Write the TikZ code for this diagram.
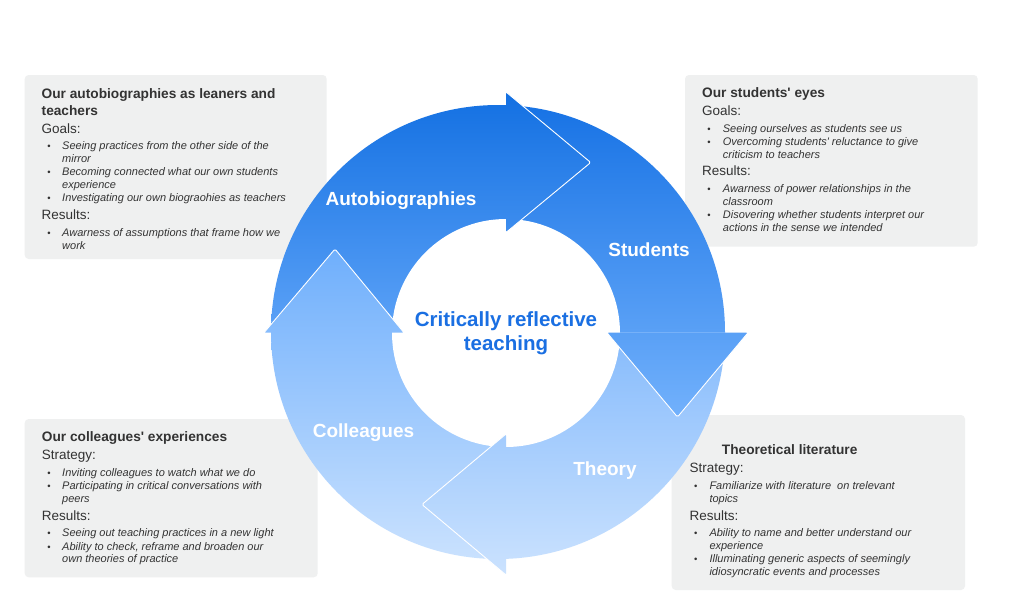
\documentclass[tikz,border=0pt]{standalone}
\usepackage{fontspec}
\newfontfamily\lib{Liberation Sans}
\definecolor{boxbg}{HTML}{EFF0F0}
\definecolor{txt}{HTML}{333333}
\definecolor{cblue}{HTML}{1A6FE2}
\definecolor{qat}{HTML}{1370E2}
\definecolor{qab}{HTML}{5CA2F7}
\definecolor{qbt}{HTML}{1873E5}
\definecolor{qbb}{HTML}{72B1FC}
\definecolor{qct}{HTML}{86BBFC}
\definecolor{qcb}{HTML}{CBE2FE}
\definecolor{qdt}{HTML}{6FAFFC}
\definecolor{qdb}{HTML}{C9E1FE}
\begin{document}
\begin{tikzpicture}[x=1pt,y=-1pt,
  infobox/.style={fill=boxbg,draw=none,rounded corners=4pt,inner sep=0pt},
  ttl/.style={anchor=base west,inner sep=0pt,text=txt,font=\lib\bfseries\fontsize{13.7}{16}\selectfont},
  sec/.style={anchor=base west,inner sep=0pt,text=txt,font=\lib\fontsize{13.5}{16}\selectfont},
  itm/.style={anchor=base west,inner sep=0pt,text=txt,font=\lib\itshape\fontsize{11}{13}\selectfont},
  bul/.style={anchor=base,inner sep=0pt,text=txt,font=\lib\fontsize{9.5}{11}\selectfont},
  ring/.style={anchor=base,inner sep=0pt,text=white,font=\lib\bfseries\fontsize{19}{22}\selectfont},
  ctr/.style={anchor=base,inner sep=0pt,text=cblue,font=\lib\bfseries\fontsize{20.5}{24}\selectfont},
  edge/.style={white,line width=0.9pt,line join=round}]
\useasboundingbox (0,0) rectangle (1018,616);
\fill[white] (0,0) rectangle (1018,616);

% ---- info boxes
\node[infobox,minimum width=302pt,minimum height=184pt] (box1) at (175.7,167) {};
\node[infobox,minimum width=292.7pt,minimum height=171.7pt] (box2) at (831.35,160.85) {};
\node[infobox,minimum width=293pt,minimum height=158.3pt] (box3) at (171.2,498.15) {};
\node[infobox,minimum width=293.3pt,minimum height=175pt] (box4) at (818.35,502.5) {};

% ---- ring bands
\begin{scope}
  \clip (498,332) circle (227);
  \clip (250,80) rectangle (506,332.7);
  \shade[top color=qat,bottom color=qab] (250,92) rectangle (506,332.7);
\end{scope}
\begin{scope}
  \clip (498,332) circle (227);
  \clip (506,80) rectangle (760,332.7);
  \shade[top color=qbt,bottom color=qbb] (506,105) rectangle (760,417);
\end{scope}
\begin{scope}
  \clip (498,332) circle (227);
  \clip (506,332.7) rectangle (760,600);
  \shade[top color=qct,bottom color=qcb] (506,332.7) rectangle (760,575);
\end{scope}
\begin{scope}
  \clip (498,332) circle (227);
  \clip (250,332.7) rectangle (506,600);
  \shade[top color=qdt,bottom color=qdb] (250,249) rectangle (506,558);
\end{scope}
\fill[white] (506,333) circle (114);

% ---- arrow heads
\begin{scope}
  \clip[rounded corners=1.5pt] (506,92) -- (590.7,162.5) -- (506,232.5) -- cycle;
  \shade[top color=qat,bottom color=qab] (250,92) rectangle (760,332.7);
\end{scope}
\draw[edge,rounded corners=1.5pt] (506,92) -- (590.7,162.5) -- (506,232.5);
\begin{scope}
  \clip[rounded corners=1.5pt] (607,332.7) -- (677.5,417) -- (748,332.7) -- cycle;
  \shade[top color=qbt,bottom color=qbb] (506,105) rectangle (760,417);
\end{scope}
\draw[edge,rounded corners=1.5pt] (607,332.7) -- (677.5,417) -- (748,332.7);
\begin{scope}
  \clip[rounded corners=1.5pt] (506,434) -- (422,504.5) -- (506,575) -- cycle;
  \shade[top color=qct,bottom color=qcb] (400,332.7) rectangle (760,575);
\end{scope}
\draw[edge,rounded corners=1.5pt] (506,434) -- (422,504.5) -- (506,575);
\begin{scope}
  \clip[rounded corners=1.5pt] (264,332.7) -- (335,249) -- (404,332.7) -- cycle;
  \shade[top color=qdt,bottom color=qdb] (250,249) rectangle (506,558);
\end{scope}
\draw[edge,rounded corners=1.5pt] (264,332.7) -- (335,249) -- (404,332.7);

% ---- ring labels
\node[ring] (lauto) at (401,205) {Autobiographies};
\node[ring] (lstud) at (649,256) {Students};
\node[ring] (lcoll) at (363.5,437.7) {Colleagues};
\node[ring] (ltheo) at (605,475) {Theory};
\node[ctr] (c1) at (506,326) {Critically reflective};
\node[ctr] (c2) at (506,350) {teaching};

% ---- box 1
\node[ttl] (a1) at (41.5,98.3) {Our autobiographies as leaners and};
\node[ttl] (a2) at (41.5,115) {teachers};
\node[sec] (a3) at (41.5,133.3) {Goals:};
\node[bul] (a4) at (49,149.3) {•};
\node[itm] (a5) at (62,149.3) {Seeing practices from the other side of the};
\node[itm] (a6) at (62,162.4) {mirror};
\node[bul] (a7) at (49,175.5) {•};
\node[itm] (a8) at (62,175.5) {Becoming connected what our own students};
\node[itm] (a9) at (62,188.6) {experience};
\node[bul] (a10) at (49,201.8) {•};
\node[itm] (a11) at (62,201.8) {Investigating our own biograohies as teachers};
\node[sec] (a12) at (41.5,219) {Results:};
\node[bul] (a13) at (49,236) {•};
\node[itm] (a14) at (62,236) {Awarness of assumptions that frame how we};
\node[itm] (a15) at (62,249) {work};

% ---- box 2
\node[ttl] (b1) at (702,97.7) {Our students' eyes};
\node[sec] (b2) at (702,115.7) {Goals:};
\node[bul] (b3) at (709,132.7) {•};
\node[itm] (b4) at (722.7,132.7) {Seeing ourselves as students see us};
\node[bul] (b5) at (709,145.7) {•};
\node[itm] (b6) at (722.7,145.7) {Overcoming students' reluctance to give};
\node[itm] (b7) at (722.7,158.7) {criticism to teachers};
\node[sec] (b8) at (702,175.7) {Results:};
\node[bul] (b9) at (709,192.3) {•};
\node[itm] (b10) at (722.7,192.3) {Awarness of power relationships in the};
\node[itm] (b11) at (722.7,205.3) {classroom};
\node[bul] (b12) at (709,218.3) {•};
\node[itm] (b13) at (722.7,218.3) {Disovering whether students interpret our};
\node[itm] (b14) at (722.7,231.3) {actions in the sense we intended};

% ---- box 3
\node[ttl] (c3) at (41.7,441.7) {Our colleagues' experiences};
\node[sec] (c4) at (41.7,459.7) {Strategy:};
\node[bul] (c5) at (49,476.7) {•};
\node[itm] (c6) at (62,476.7) {Inviting colleagues to watch what we do};
\node[bul] (c7) at (49,489.7) {•};
\node[itm] (c8) at (62,489.7) {Participating in critical conversations with};
\node[itm] (c9) at (62,502.5) {peers};
\node[sec] (c10) at (41.7,520) {Results:};
\node[bul] (c11) at (49,536.7) {•};
\node[itm] (c12) at (62,536.7) {Seeing out teaching practices in a new light};
\node[bul] (c13) at (49,550) {•};
\node[itm] (c14) at (62,550) {Ability to check, reframe and broaden our};
\node[itm] (c15) at (62,562.8) {own theories of practice};

% ---- box 4
\node[ttl] (d1) at (721.7,454.3) {Theoretical literature};
\node[sec] (d2) at (689.3,472.7) {Strategy:};
\node[bul] (d3) at (695.7,489) {•};
\node[itm] (d4) at (709.3,489) {Familiarize with literature~ on trelevant};
\node[itm] (d5) at (709.3,502.3) {topics};
\node[sec] (d6) at (689.3,520) {Results:};
\node[bul] (d7) at (695.7,536) {•};
\node[itm] (d8) at (709.3,536) {Ability to name and better understand our};
\node[itm] (d9) at (709.3,549) {experience};
\node[bul] (d10) at (695.7,562.3) {•};
\node[itm] (d11) at (709.3,562.3) {Illuminating generic aspects of seemingly};
\node[itm] (d12) at (709.3,575.3) {idiosyncratic events and processes};
\end{tikzpicture}
\end{document}
